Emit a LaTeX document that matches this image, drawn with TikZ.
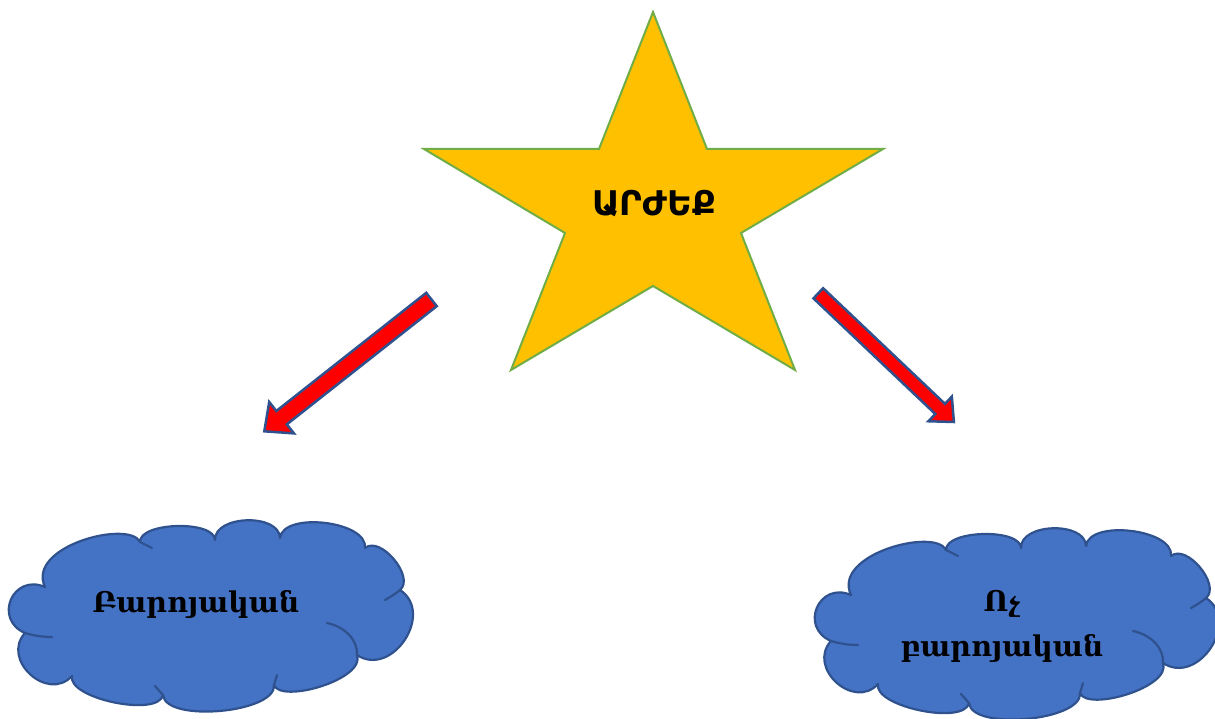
\documentclass[tikz,border=0pt]{standalone}
\usepackage{fontspec}
\newfontfamily\armsans{DejaVu Sans}
\newfontfamily\armserif{DejaVu Serif}
\usetikzlibrary{calc}
\definecolor{starfill}{HTML}{FFC000}
\definecolor{starline}{HTML}{70AD47}
\definecolor{cloudfill}{HTML}{4472C4}
\definecolor{darkblue}{HTML}{2F528F}
\tikzset{
  starshape/.style={fill=starfill,draw=starline,line width=2pt,line join=miter},
  cloudbody/.style={fill=cloudfill,draw=darkblue,line width=2.2pt,line join=round},
  cloudseam/.style={draw=darkblue,line width=2.2pt,line cap=round},
  redarrow/.style={fill=red,draw=darkblue,line width=2.5pt,line join=miter},
  startext/.style={font=\armsans\bfseries\fontsize{34}{40}\selectfont,inner sep=0pt},
  cloudtext/.style={font=\armserif\bfseries\fontsize{28.5}{45}\selectfont,align=center,inner sep=0pt},
}
\newcommand\puff[4]{.. controls ($(#1)!#3!90:(#2)$) and ($(#2)!#4!-90:(#1)$) .. (#2)}
\newcommand\cloudshape[1]{%
  \coordinate (#1c1) at (45,587);
  \coordinate (#1c2) at (140,542);
  \coordinate (#1c3) at (215,540);
  \coordinate (#1c4) at (280,538);
  \coordinate (#1c5) at (365,548);
  \coordinate (#1c6) at (400,590);
  \coordinate (#1c7) at (357,655);
  \coordinate (#1c8) at (274,685);
  \coordinate (#1c9) at (163,695);
  \coordinate (#1c10) at (72,676);
  \coordinate (#1c11) at (25,633);
  \path[cloudbody] (#1c1)
    \puff{#1c1}{#1c2}{45pt}{25pt}
    \puff{#1c2}{#1c3}{20pt}{20pt}
    \puff{#1c3}{#1c4}{25pt}{25pt}
    \puff{#1c4}{#1c5}{27pt}{27pt}
    \puff{#1c5}{#1c6}{20pt}{20pt}
    \puff{#1c6}{#1c7}{42pt}{42pt}
    \puff{#1c7}{#1c8}{26pt}{20pt}
    \puff{#1c8}{#1c9}{28pt}{28pt}
    \puff{#1c9}{#1c10}{23pt}{23pt}
    \puff{#1c10}{#1c11}{36pt}{36pt}
    \puff{#1c11}{#1c1}{35pt}{35pt} -- cycle;
  \draw[cloudseam] (#1c11) .. controls (35,636) and (44,637) .. (52,637);
  \draw[cloudseam] (#1c9) -- (155,686);
  \draw[cloudseam] (#1c8) -- (277,675);
  \draw[cloudseam] (#1c7) .. controls (358,641) and (346,627) .. (327,623);
  \draw[cloudseam] (#1c6) .. controls (394,595) and (390,597) .. (385,600);
  \draw[cloudseam] (#1c2) -- (152,548);
}
\newcommand\blockarrow[6]{%
  \coordinate (#1B) at ($(#3)!#6!(#2)$);
  \path[redarrow] ($(#2)!#4!-90:(#3)$) -- ($(#1B)!#4!-90:(#3)$) -- ($(#1B)!#5!-90:(#3)$)
    -- (#3) -- ($(#1B)!#5!90:(#3)$) -- ($(#1B)!#4!90:(#3)$) -- ($(#2)!#4!90:(#3)$) -- cycle;
}
\begin{document}
\begin{tikzpicture}[x=1pt,y=-1pt]
\useasboundingbox (0,0) rectangle (1215,719);
% star
\coordinate (s1) at (653,12);
\coordinate (s2) at (707,149);
\coordinate (s3) at (883,149);
\coordinate (s4) at (741,233);
\coordinate (s5) at (795,370);
\coordinate (s6) at (653,286);
\coordinate (s7) at (511,370);
\coordinate (s8) at (565,233);
\coordinate (s9) at (424,149);
\coordinate (s10) at (599,149);
\path[starshape] (s1) -- (s2) -- (s3) -- (s4) -- (s5) -- (s6) -- (s7) -- (s8) -- (s9) -- (s10) -- cycle;
\node[startext,anchor=base] (value) at (654,216) {ԱՐԺԵՔ};
% arrows
\coordinate (lt) at (431.5,299.5);
\coordinate (lh) at (264.3,431.3);
\blockarrow{la}{lt}{lh}{8.5pt}{20pt}{22pt}
\coordinate (rt) at (818.3,293.3);
\coordinate (rh) at (953.9,422);
\blockarrow{ra}{rt}{rh}{7pt}{17pt}{19pt}
% clouds
\begin{scope}
\cloudshape{L}
\end{scope}
\begin{scope}[shift={(806,8)}]
\cloudshape{R}
\end{scope}
\node[cloudtext,anchor=base] (moral) at (196,612) {Բարոյական};
\node[cloudtext] (immoral) at (1002,626) {Ոչ\\բարոյական};
\end{tikzpicture}
\end{document}
